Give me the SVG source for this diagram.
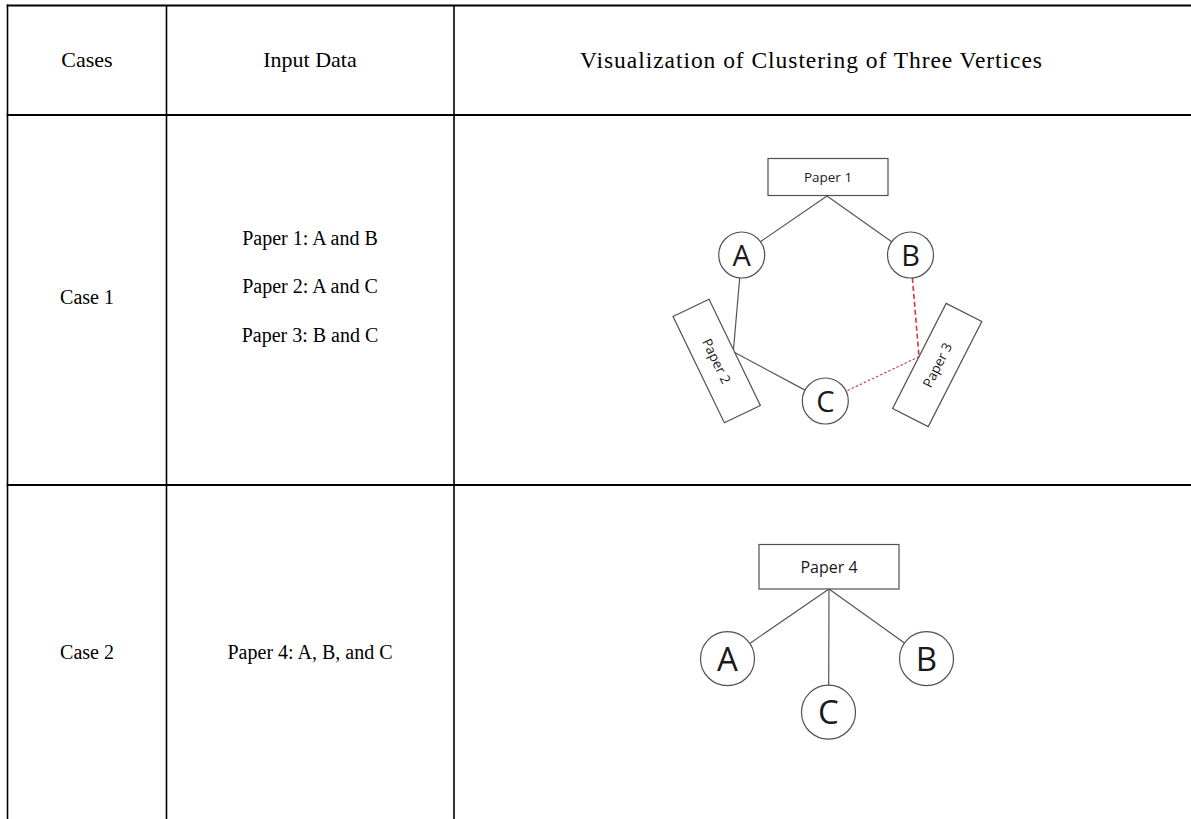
<svg xmlns="http://www.w3.org/2000/svg" width="1191" height="819" viewBox="0 0 1191 819">
<style>
.grid{stroke:#000;fill:none}
.h{stroke-width:2.2}
.v{stroke-width:1.6}
.tt{font-family:"Liberation Serif","Times New Roman",serif;font-size:20px;fill:#000;text-anchor:middle}
.hd{font-size:22px}
.hv{font-size:23.5px}
.box{fill:#fff;stroke:#505050;stroke-width:1.2}
.lbl{font-family:"Open Sans","Liberation Sans",sans-serif;fill:#1a1a1a;text-anchor:middle}
.p{font-size:13.5px}
.p4{font-size:16px}
.v1{font-size:29px}
.v2{font-size:33px}
.edge{stroke:#555;stroke-width:1.2;fill:none}
.red1{stroke:#d9333f;stroke-width:1.6;stroke-dasharray:5,3;fill:none}
.red2{stroke:#d9333f;stroke-width:1.1;stroke-dasharray:2.5,2;fill:none}
</style>
<rect width="1191" height="819" fill="#fff"/>
<g id="table">
<line class="grid h" x1="6.7" y1="5.5" x2="1191" y2="5.5"/>
<line class="grid h" x1="6.7" y1="115" x2="1191" y2="115"/>
<line class="grid h" x1="6.7" y1="485" x2="1191" y2="485"/>
<line class="grid v" x1="7.5" y1="4.5" x2="7.5" y2="819"/>
<line class="grid v" x1="166.5" y1="5" x2="166.5" y2="819"/>
<line class="grid v" x1="454" y1="5" x2="454" y2="819"/>
<text class="tt hd" x="87" y="67">Cases</text>
<text class="tt hd" x="310" y="67">Input Data</text>
<text class="tt hv" x="811" y="67.5" textLength="462" lengthAdjust="spacing">Visualization of Clustering of Three Vertices</text>
<text class="tt" x="87" y="304">Case 1</text>
<text class="tt" x="310" y="245">Paper 1: A and B</text>
<text class="tt" x="310" y="293">Paper 2: A and C</text>
<text class="tt" x="310" y="342">Paper 3: B and C</text>
<text class="tt" x="87" y="659">Case 2</text>
<text class="tt" x="310" y="659">Paper 4: A, B, and C</text>
</g>
<g id="connectors">
<line class="edge" x1="827" y1="196" x2="760" y2="242"/>
<line class="edge" x1="827" y1="196" x2="891.7" y2="241.7"/>
<line class="edge" x1="739.7" y1="277.9" x2="733.3" y2="351.7"/>
<line class="edge" x1="733.3" y1="351.7" x2="805" y2="390.1"/>
<line class="red1" x1="912.4" y1="277.9" x2="919" y2="356.7"/>
<line class="red2" x1="919" y1="356.7" x2="846.1" y2="391.2"/>
<line class="edge" x1="829" y1="589" x2="749.8" y2="643.4"/>
<line class="edge" x1="829" y1="589" x2="904.5" y2="643"/>
<line class="edge" x1="829" y1="589" x2="828.7" y2="685"/>
</g>
<g id="paper1">
<rect class="box" x="768" y="158.5" width="120" height="37"/>
<text class="lbl p" x="828" y="182">Paper 1</text>
</g>
<g id="paper2" transform="translate(716.7,361) rotate(64.2)">
<rect class="box" x="-59" y="-20" width="118" height="40"/>
<text class="lbl p" x="0" y="5">Paper 2</text>
</g>
<g id="paper3" transform="translate(937.2,365) rotate(-63)">
<rect class="box" x="-59" y="-20" width="118" height="40"/>
<text class="lbl p" x="0" y="5">Paper 3</text>
</g>
<g id="c1A"><circle class="box" cx="741.7" cy="255" r="23"/><text class="lbl v1" x="741.7" y="265.5">A</text></g>
<g id="c1B"><circle class="box" cx="910.5" cy="255" r="23"/><text class="lbl v1" x="910.5" y="265.5">B</text></g>
<g id="c1C"><circle class="box" cx="825.3" cy="401" r="23"/><text class="lbl v1" x="825.3" y="411.5">C</text></g>
<g id="paper4">
<rect class="box" x="759" y="544.5" width="140" height="44.5"/>
<text class="lbl p4" x="829" y="572.5">Paper 4</text>
</g>
<g id="c2A"><circle class="box" cx="727.5" cy="658.7" r="27"/><text class="lbl v2" x="727.5" y="670.5">A</text></g>
<g id="c2B"><circle class="box" cx="926.5" cy="658.7" r="27"/><text class="lbl v2" x="926.5" y="670.5">B</text></g>
<g id="c2C"><circle class="box" cx="828.5" cy="712.2" r="27"/><text class="lbl v2" x="828.5" y="724">C</text></g>
</svg>
